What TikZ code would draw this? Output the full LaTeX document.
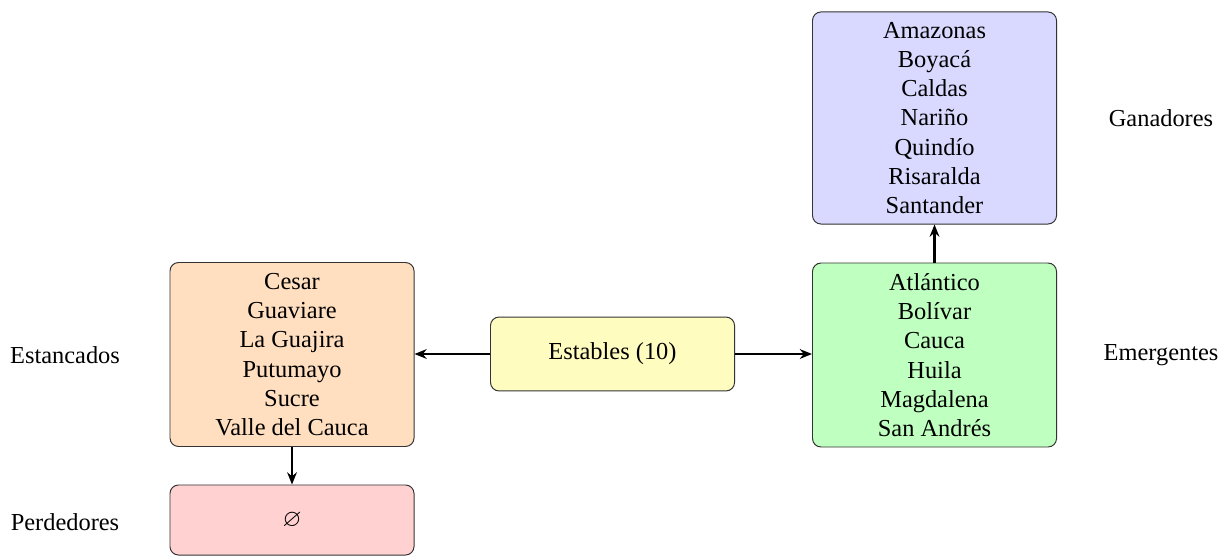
\documentclass[tikz,border=0pt]{standalone}
\usepackage{amssymb}
\usepackage{fontspec}
\setmainfont{Liberation Serif}
\usetikzlibrary{arrows.meta}
\begin{document}
\begin{tikzpicture}[x=0.4098pt,y=-0.4098pt,
  box/.style={draw=black!80, rounded corners=3.5pt, align=center, minimum width=100pt, inner sep=2pt, font=\fontsize{10}{12}\selectfont},
  lbl/.style={font=\fontsize{10}{12}\selectfont},
  conn/.style={line width=1.1pt, -{Stealth[length=5pt,width=4pt]}}]
\useasboundingbox (0,0) rectangle (1221,556);
\node[box, fill=blue!15, minimum height=86.9pt] (gan) at (934.5,118) {Amazonas\\Boyacá\\Caldas\\Nariño\\Quindío\\Risaralda\\Santander};
\node[box, fill=green!25, minimum height=75.4pt] (eme) at (934.5,355) {Atlántico\\Bolívar\\Cauca\\Huila\\Magdalena\\San Andrés};
\node[box, fill=orange!25, minimum height=75.4pt] (est) at (292,354.5) {Cesar\\Guaviare\\La Guajira\\Putumayo\\Sucre\\Valle del Cauca};
\node[box, fill=yellow!25, minimum height=30.3pt] (sta) at (612.5,354) {Estables (10)};
\node[box, fill=red!18, minimum height=28.7pt] (per) at (292,520) {\itshape$\varnothing$};
\node[lbl] (lest) at (65,355) {Estancados};
\node[lbl] (lper) at (65,522) {Perdedores};
\node[lbl] (lgan) at (1161,118) {Ganadores};
\node[lbl] (leme) at (1161,355) {Emergentes};
\draw[conn] (sta.west) -- (est.east |- sta.west);
\draw[conn] (sta.east) -- (eme.west |- sta.east);
\draw[conn] (est.south) -- (per.north);
\draw[conn] (eme.north) -- (gan.south);
\end{tikzpicture}
\end{document}
